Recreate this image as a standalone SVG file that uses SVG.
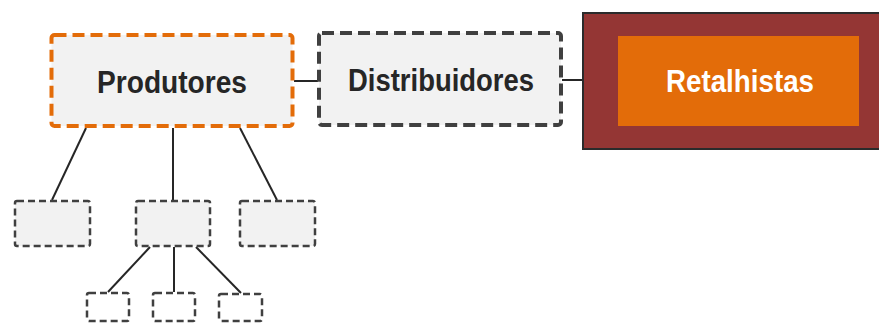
<svg xmlns="http://www.w3.org/2000/svg" width="879" height="324" viewBox="0 0 879 324">
<style>
.lbl{font-family:"Liberation Sans",Arial,sans-serif;font-weight:bold;font-size:31px;text-anchor:middle}
.dark{fill:#262626}
.conn{stroke:#262626;stroke-width:2;fill:none}
.child{fill:#f2f2f2;stroke:#404040;stroke-width:2.5;stroke-dasharray:7 4}
.small{fill:#ffffff;stroke:#404040;stroke-width:2.5;stroke-dasharray:7 4}
</style>
<rect width="879" height="324" fill="#ffffff"/>
<g id="connectors">
<line class="conn" x1="294" y1="81" x2="318" y2="81"/>
<line class="conn" x1="562" y1="80" x2="583" y2="80"/>
<line class="conn" x1="86" y1="128" x2="52" y2="200"/>
<line class="conn" x1="173" y1="128" x2="173" y2="200"/>
<line class="conn" x1="240" y1="128" x2="277" y2="200"/>
<line class="conn" x1="150" y1="247" x2="108" y2="292"/>
<line class="conn" x1="174" y1="247" x2="174" y2="292"/>
<line class="conn" x1="196" y1="247" x2="241" y2="293"/>
</g>
<g id="produtores">
<rect x="51.5" y="35" width="241" height="91" rx="3" fill="#f2f2f2" stroke="#e36c09" stroke-width="4" stroke-dasharray="12 6"/>
<text class="lbl dark" x="172" y="93" textLength="150" lengthAdjust="spacingAndGlyphs">Produtores</text>
</g>
<g id="distribuidores">
<rect x="319" y="33" width="242" height="92" rx="3" fill="#f2f2f2" stroke="#404040" stroke-width="4" stroke-dasharray="12 6"/>
<text class="lbl dark" x="441" y="91" textLength="186" lengthAdjust="spacingAndGlyphs">Distribuidores</text>
</g>
<g id="retalhistas">
<rect x="583" y="13" width="310" height="136" fill="#943634" stroke="#2b2b2b" stroke-width="2"/>
<rect x="618" y="36" width="241" height="90" fill="#e36c09"/>
<text class="lbl" x="740" y="92" fill="#ffffff" textLength="148" lengthAdjust="spacingAndGlyphs">Retalhistas</text>
</g>
<g id="child1"><rect class="child" x="15" y="201" width="75" height="45" rx="2"/></g>
<g id="child2"><rect class="child" x="136" y="201" width="74" height="45" rx="2"/></g>
<g id="child3"><rect class="child" x="240" y="201" width="75" height="45" rx="2"/></g>
<g id="grand1"><rect class="small" x="87" y="293" width="42" height="28" rx="2"/></g>
<g id="grand2"><rect class="small" x="153" y="293" width="42" height="28" rx="2"/></g>
<g id="grand3"><rect class="small" x="219" y="294" width="43" height="27" rx="2"/></g>
</svg>
